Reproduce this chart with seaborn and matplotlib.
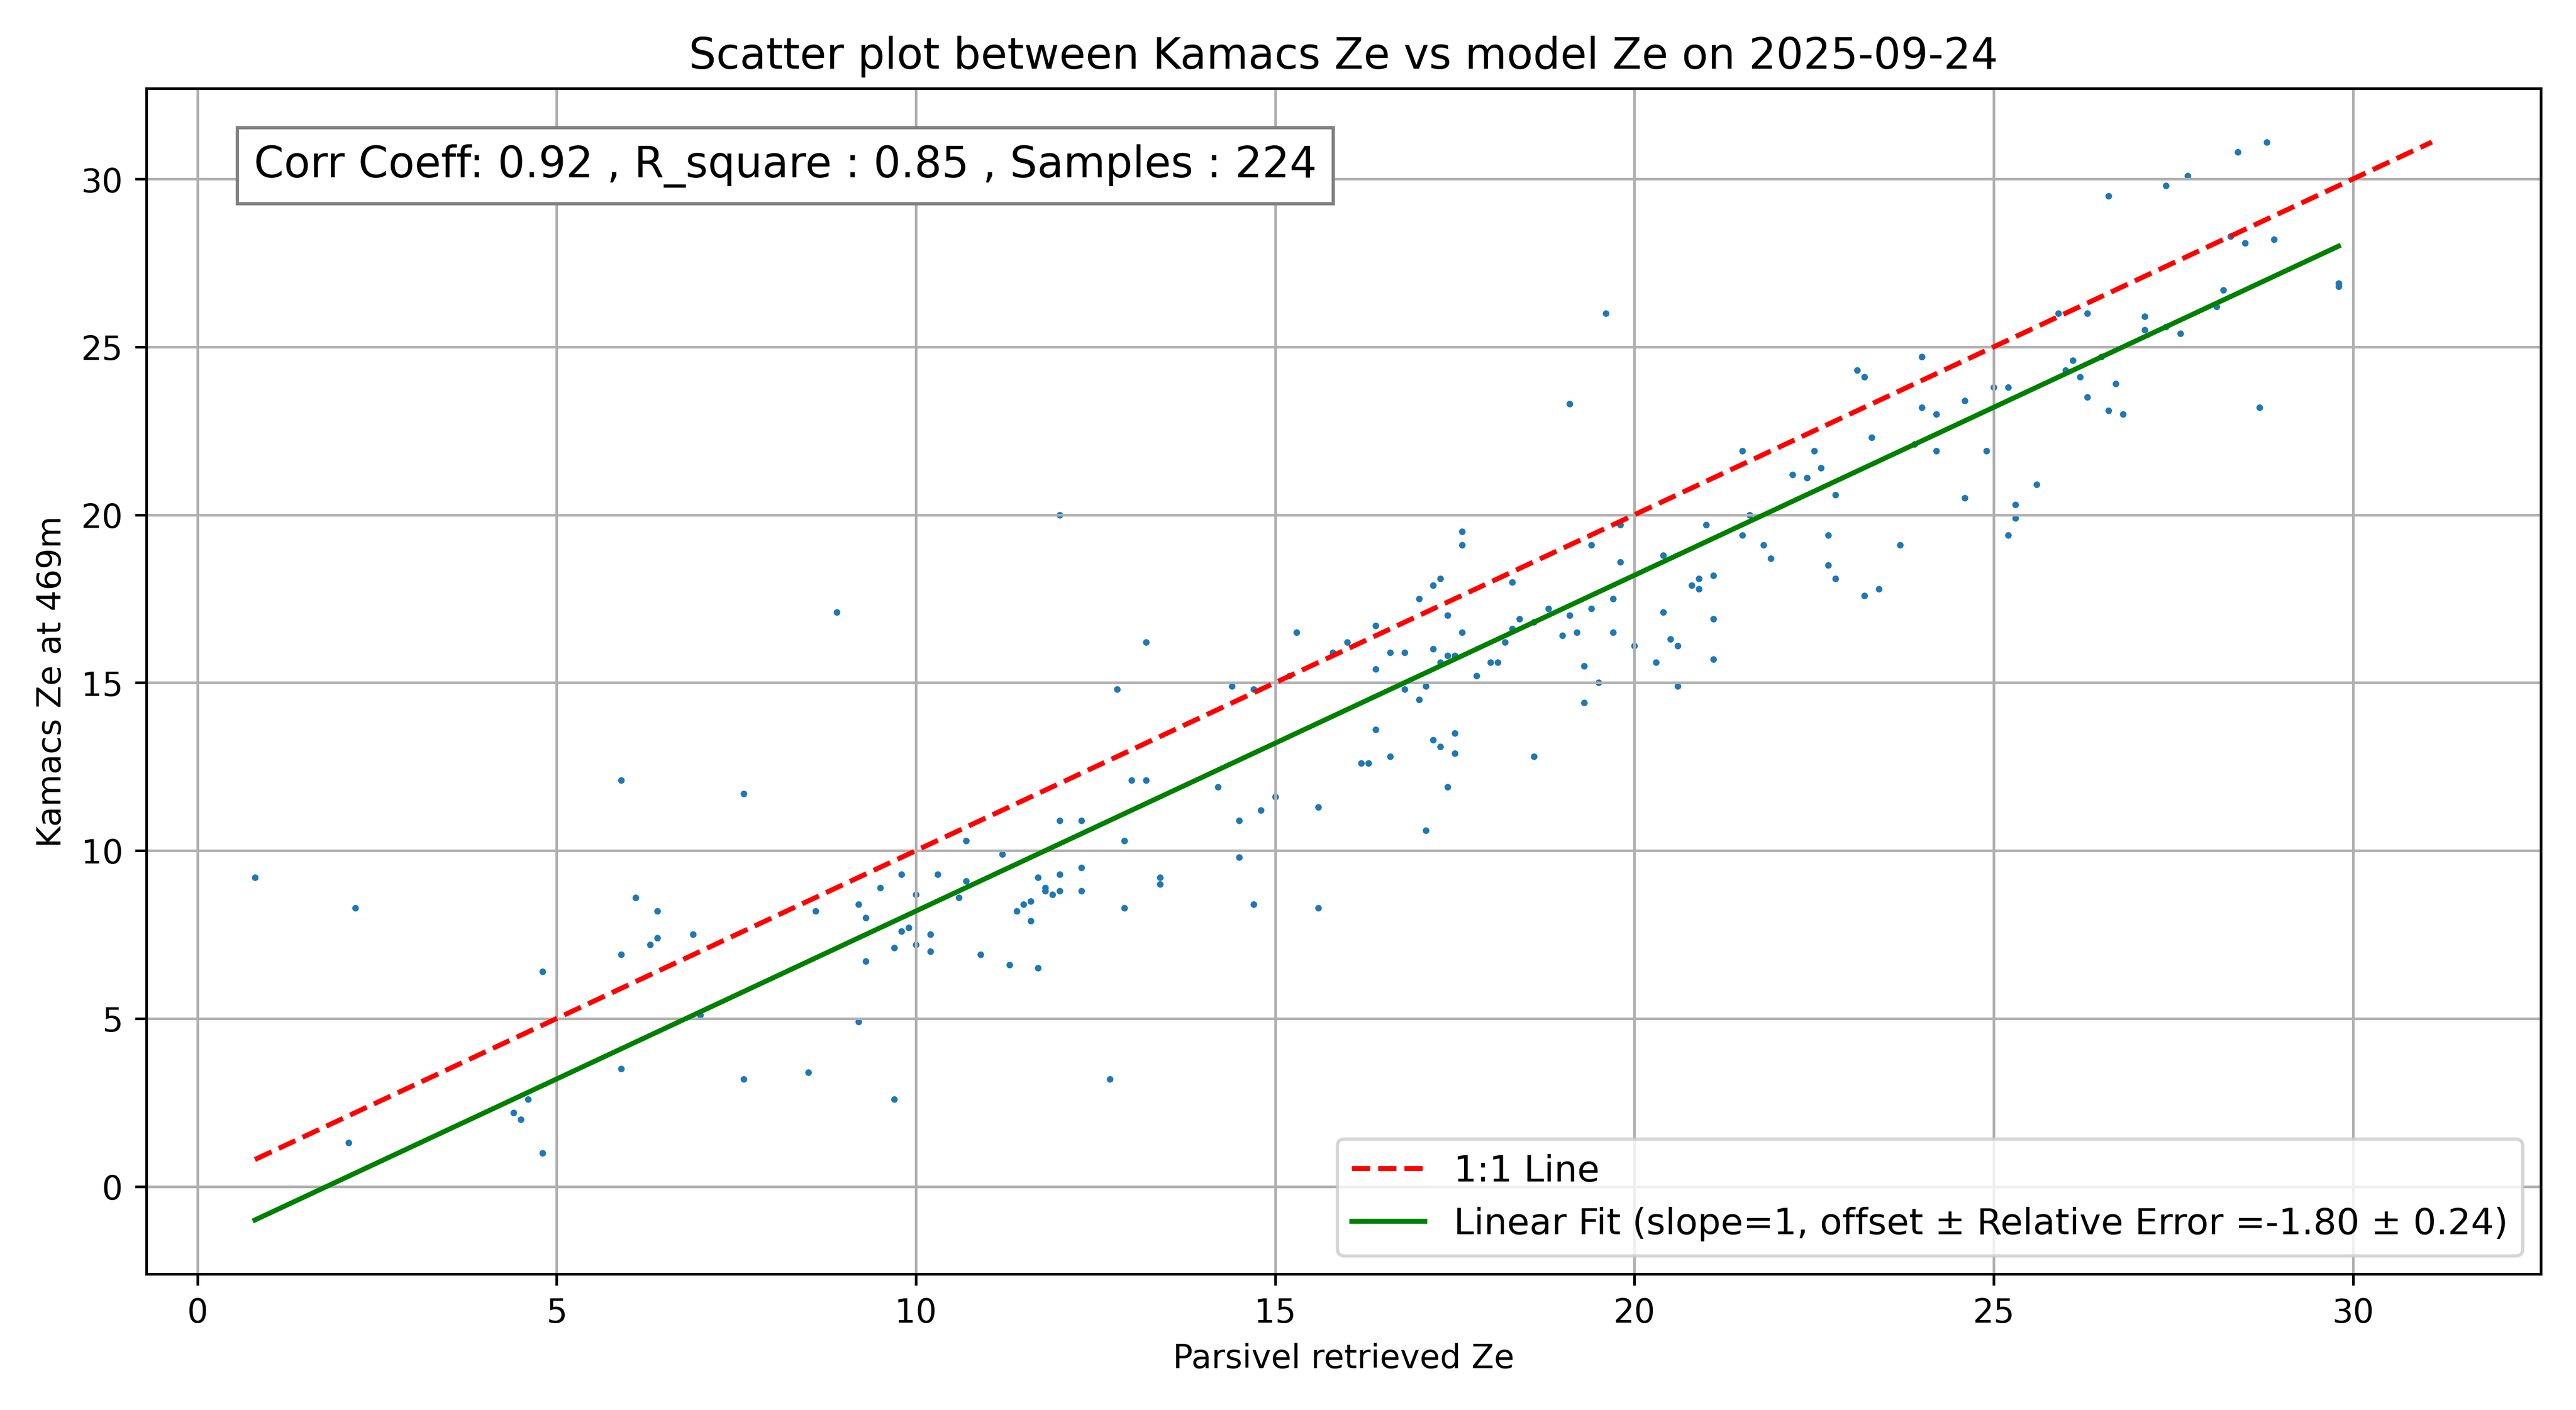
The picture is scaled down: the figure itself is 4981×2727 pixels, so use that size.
import numpy as np
import pandas as pd
import matplotlib
matplotlib.use("Agg")
import matplotlib.pyplot as plt
import seaborn as sns

# values
parsivel_ze = [0.8, 2.1, 2.2, 4.4, 4.5, 4.6, 4.8, 4.8, 5.9, 5.9, 5.9, 6.1, 6.3, 6.4, 6.4, 6.9, 7.0, 7.6, 7.6, 8.5,
               8.6, 8.9, 9.2, 9.2, 9.3, 9.3, 9.5, 9.7, 9.7, 9.8, 9.8, 9.9, 10.0, 10.0, 10.2, 10.2, 10.3, 10.6, 10.7, 10.7,
               10.9, 11.2, 11.3, 11.4, 11.5, 11.6, 11.6, 11.7, 11.7, 11.8, 11.8, 11.9, 12.0, 12.0, 12.0, 12.0, 12.3, 12.3, 12.3, 12.7,
               12.8, 12.9, 12.9, 13.0, 13.2, 13.2, 13.4, 13.4, 14.2, 14.4, 14.5, 14.5, 14.7, 14.7, 14.8, 15.0, 15.2, 15.3, 15.6, 15.6,
               15.8, 16.0, 16.2, 16.3, 16.4, 16.4, 16.4, 16.6, 16.6, 16.8, 16.8, 17.0, 17.0, 17.1, 17.1, 17.2, 17.2, 17.2, 17.3, 17.3,
               17.3, 17.4, 17.4, 17.4, 17.5, 17.5, 17.5, 17.6, 17.6, 17.6, 17.8, 18.0, 18.1, 18.2, 18.3, 18.3, 18.4, 18.6, 18.6, 18.8,
               19.0, 19.1, 19.1, 19.2, 19.3, 19.3, 19.4, 19.4, 19.5, 19.6, 19.7, 19.7, 19.8, 19.8, 20.0, 20.3, 20.4, 20.4, 20.5, 20.6,
               20.6, 20.8, 20.9, 20.9, 21.0, 21.1, 21.1, 21.1, 21.5, 21.5, 21.6, 21.8, 21.9, 22.2, 22.4, 22.5, 22.6, 22.7, 22.7, 22.8,
               22.8, 23.1, 23.2, 23.2, 23.3, 23.4, 23.7, 23.9, 24.0, 24.0, 24.2, 24.2, 24.6, 24.6, 24.9, 25.0, 25.2, 25.2, 25.3, 25.3,
               25.6, 25.9, 26.0, 26.1, 26.2, 26.3, 26.3, 26.5, 26.6, 26.6, 26.7, 26.8, 27.1, 27.1, 27.4, 27.4, 27.6, 27.7, 28.1, 28.2,
               28.3, 28.4, 28.5, 28.7, 28.8, 28.9, 29.8, 29.8]
kamacs_ze = [9.2, 1.3, 8.3, 2.2, 2.0, 2.6, 1.0, 6.4, 3.5, 6.9, 12.1, 8.6, 7.2, 7.4, 8.2, 7.5, 5.1, 3.2, 11.7, 3.4,
             8.2, 17.1, 4.9, 8.4, 6.7, 8.0, 8.9, 2.6, 7.1, 7.6, 9.3, 7.7, 7.2, 8.7, 7.0, 7.5, 9.3, 8.6, 9.1, 10.3,
             6.9, 9.9, 6.6, 8.2, 8.4, 7.9, 8.5, 6.5, 9.2, 8.8, 8.9, 8.7, 8.8, 9.3, 10.9, 20.0, 8.8, 9.5, 10.9, 3.2,
             14.8, 8.3, 10.3, 12.1, 12.1, 16.2, 9.0, 9.2, 11.9, 14.9, 9.8, 10.9, 8.4, 14.8, 11.2, 11.6, 15.2, 16.5, 8.3, 11.3,
             15.9, 16.2, 12.6, 12.6, 13.6, 15.4, 16.7, 12.8, 15.9, 14.8, 15.9, 14.5, 17.5, 10.6, 14.9, 13.3, 16.0, 17.9, 13.1, 15.6,
             18.1, 11.9, 15.8, 17.0, 12.9, 13.5, 15.8, 16.5, 19.1, 19.5, 15.2, 15.6, 15.6, 16.2, 16.6, 18.0, 16.9, 12.8, 16.8, 17.2,
             16.4, 17.0, 23.3, 16.5, 14.4, 15.5, 17.2, 19.1, 15.0, 26.0, 16.5, 17.5, 18.6, 19.7, 16.1, 15.6, 17.1, 18.8, 16.3, 14.9,
             16.1, 17.9, 18.1, 17.8, 19.7, 15.7, 16.9, 18.2, 19.4, 21.9, 20.0, 19.1, 18.7, 21.2, 21.1, 21.9, 21.4, 18.5, 19.4, 18.1,
             20.6, 24.3, 24.1, 17.6, 22.3, 17.8, 19.1, 22.1, 24.7, 23.2, 21.9, 23.0, 20.5, 23.4, 21.9, 23.8, 23.8, 19.4, 19.9, 20.3,
             20.9, 26.0, 24.3, 24.6, 24.1, 23.5, 26.0, 24.7, 23.1, 29.5, 23.9, 23.0, 25.5, 25.9, 25.6, 29.8, 25.4, 30.1, 26.2, 26.7,
             28.3, 30.8, 28.1, 23.2, 31.1, 28.2, 26.9, 26.8]

# statistics as printed in the reference
corr_coeff = 0.92
r_square = 0.85
n_samples = 224
fit_offset = -1.80
fit_rel_err = 0.24

df = pd.DataFrame({"parsivel": parsivel_ze, "kamacs": kamacs_ze})
x = df["parsivel"].values
y = df["kamacs"].values

fig, ax = plt.subplots(figsize=(10.83, 5.93), dpi=460)
sns.scatterplot(data=df, x="parsivel", y="kamacs", s=4, linewidth=0, color="tab:blue", ax=ax)

lo = min(x.min(), y.min())
hi = max(x.max(), y.max())
ax.plot([lo, hi], [lo, hi], "r--", lw=1.5, label="1:1 Line")
xf = np.array([x.min(), x.max()])
ax.plot(xf, xf + fit_offset, color="green", lw=1.5,
        label=f"Linear Fit (slope=1, offset \u00b1 Relative Error ={fit_offset:.2f} \u00b1 {fit_rel_err:.2f})")

ax.text(0.045, 0.925, f"Corr Coeff: {corr_coeff:.2f} , R_square : {r_square:.2f} , Samples : {n_samples}",
        transform=ax.transAxes, fontsize=13,
        bbox=dict(facecolor="white", edgecolor="gray", pad=5))
ax.grid(True)
ax.set_xlabel("Parsivel retrieved Ze")
ax.set_ylabel("Kamacs Ze at 469m")
ax.set_title("Scatter plot between Kamacs Ze vs model Ze on 2025-09-24", fontsize=13)
ax.legend(loc="lower right", fontsize=11)
plt.tight_layout()
plt.savefig("out.png", dpi=460)
